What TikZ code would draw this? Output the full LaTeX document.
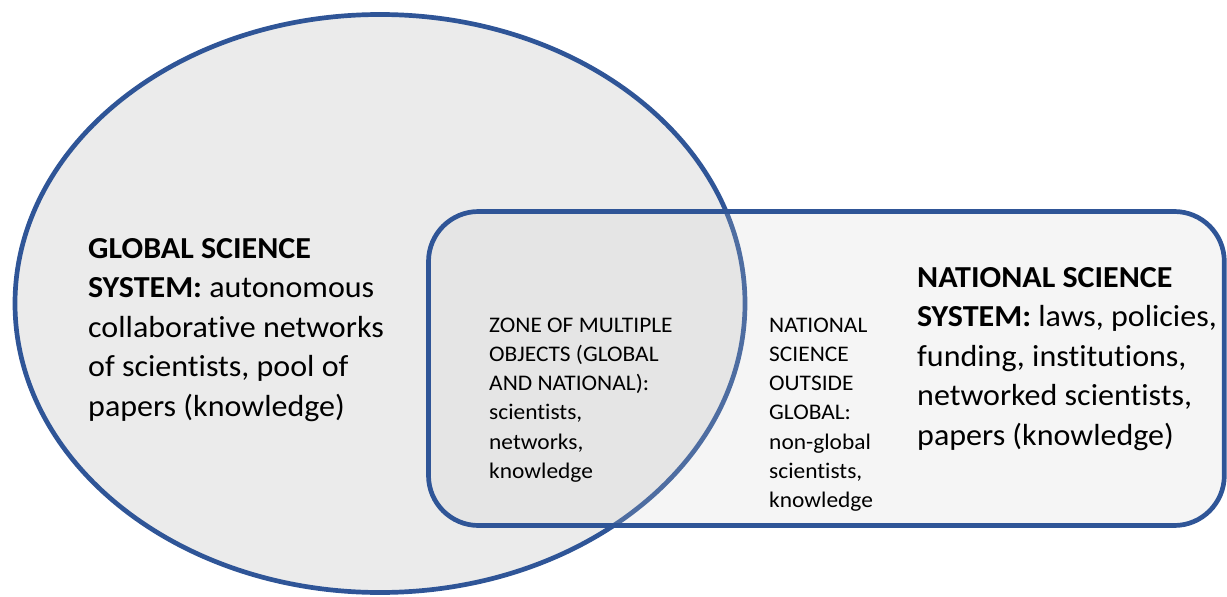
\documentclass[tikz,border=0pt]{standalone}
\usepackage{fontspec}
\setmainfont{Carlito}[FakeStretch=1.05,Ligatures=NoCommon]
\definecolor{edgeblue}{HTML}{2F5597}
\definecolor{globalfill}{HTML}{EBEBEB}
\definecolor{natfill}{RGB}{205,205,205}
\begin{document}
\begin{tikzpicture}[x=1pt,y=-1pt,
  bigtext/.style={anchor=base west,align=left,inner sep=0pt,font=\fontsize{30.5}{39.6}\selectfont},
  smalltext/.style={anchor=base west,align=left,inner sep=0pt,font=\fontsize{22.3}{29.3}\selectfont},
  outline/.style={draw=edgeblue,line width=4.7pt}]
\useasboundingbox (0,0) rectangle (1227,597);
% global science system
\path[fill=globalfill,outline] (380,303.5) ellipse [x radius=365pt, y radius=289pt];
% national science system, drawn over the ellipse with a translucent fill
\path[fill=natfill,fill opacity=0.2,rounded corners=50pt] (428.5,211.5) rectangle (1224.3,525.5);
\draw[outline,rounded corners=50pt] (428.5,211.5) rectangle (1224.3,525.5);
% multi-line nodes are anchored at the baseline of their last line
\node[bigtext] (glob) at (88,416.4) {\textbf{GLOBAL SCIENCE}\\\textbf{SYSTEM:} autonomous\\collaborative networks\\of scientists, pool of\\papers (knowledge)};
\node[smalltext] (zone) at (489,478.5) {ZONE OF MULTIPLE\\OBJECTS (GLOBAL\\AND NATIONAL):\\scientists,\\networks,\\knowledge};
\node[smalltext] (outside) at (769,507.8) {NATIONAL\\SCIENCE\\OUTSIDE\\GLOBAL:\\non-global\\scientists,\\knowledge};
\node[bigtext] (nat) at (917,445.4) {\textbf{NATIONAL SCIENCE}\\\textbf{SYSTEM:} laws, policies,\\funding, institutions,\\networked scientists,\\papers (knowledge)};
\end{tikzpicture}
\end{document}
